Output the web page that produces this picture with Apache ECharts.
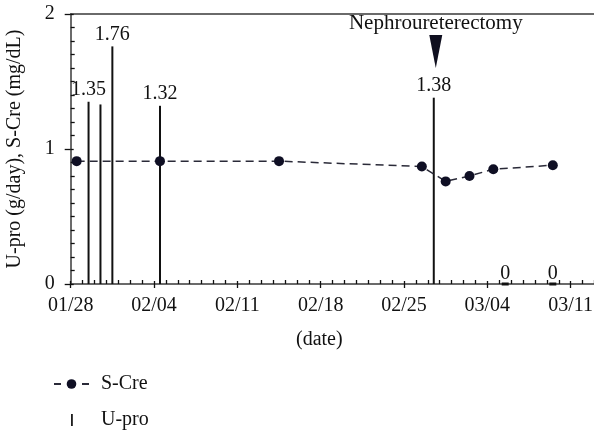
<!DOCTYPE html>
<html>
<head>
<meta charset="utf-8">
<script src="https://cdn.jsdelivr.net/npm/echarts@6/dist/echarts.min.js"></script>
<style>
  html, body { margin: 0; padding: 0; background: #fff; }
  #chart { width: 594px; height: 432px; }
</style>
</head>
<body>
<div id="chart"></div>
<script>
// x tick labels (one per week from 01/28)
const tickLabels = ['01/28', '02/04', '02/11', '02/18', '02/25', '03/04', '03/11']

// S-Cre (mg/dL)
const sCreDates = ['01/28', '02/04', '02/14', '02/26', '02/28', '03/02', '03/04', '03/09']
const sCreValues = [0.91, 0.91, 0.91, 0.87, 0.76, 0.80, 0.85, 0.88]

// U-pro (g/day)
const uProDates = ['01/29', '01/30', '01/31', '02/04', '02/27', '03/05', '03/09']
const uProValues = [1.35, 1.33, 1.76, 1.32, 1.38, 0, 0]
const uProShowLabel = [true, false, true, true, true, true, true]

const surgeryDate = '02/27'
const surgeryText = 'Nephroureterectomy'

const FONT = 'Liberation Serif'

// days since 01/28, points sit at the middle of their day
const dayOf = (s) => {
  const [m, d] = s.split('/').map(Number)
  return (Date.UTC(2010, m - 1, d) - Date.UTC(2010, 0, 28)) / 864e5 + 0.5
}

const sCreData = sCreDates.map((d, i) => [dayOf(d), sCreValues[i]])
const uProData = uProDates.map((d, i) => ({
  value: [dayOf(d), uProValues[i]],
  label: { show: uProShowLabel[i] && uProValues[i] > 0 }
}))
const uProZero = uProDates
  .map((d, i) => [dayOf(d), uProValues[i]])
  .filter(p => p[1] === 0)

const chart = echarts.init(document.getElementById('chart'))

const axisLineStyle = { color: '#3a3a3a', width: 1.5 }
const tickStyle = { color: '#111', width: 1.3 }

const option = {
  animation: false,
  textStyle: { fontFamily: FONT },
  // plot runs past the right edge of the picture, like the cropped original
  grid: { left: 70.7, width: 583.3, top: 14, bottom: 148, outerBoundsMode: 'none' },
  legend: {
    orient: 'vertical',
    left: 53,
    top: 374,
    padding: 0,
    itemGap: 16,
    itemWidth: 35,
    itemHeight: 12,
    textStyle: { fontFamily: FONT, fontSize: 20, color: '#111', padding: [0, 0, 0, 7] },
    data: [
      { name: 'S-Cre', lineStyle: { type: [7, 21] } },
      {
        name: 'U-pro',
        icon: 'path://M0,0 L0.01,0 Z M17,0 L19,0 L19,14 L17,14 Z M35,14 L35.01,14 Z'
      }
    ]
  },
  graphic: [{
    type: 'text',
    left: 296,
    top: 330,
    style: { text: '(date)', font: '20px "' + FONT + '"', fill: '#111' }
  }],
  xAxis: [
    {
      type: 'value', min: 0, max: 49, interval: 7,
      axisLine: { lineStyle: axisLineStyle },
      axisTick: { length: 4, lineStyle: tickStyle },
      splitLine: { show: false },
      axisLabel: {
        margin: 12, fontSize: 20, color: '#111', fontFamily: FONT,
        formatter: v => (v % 7 === 0 ? (tickLabels[v / 7] || '') : '')
      }
    },
    {
      type: 'value', min: 0, max: 49, interval: 7, position: 'bottom',
      axisLine: { show: false },
      axisTick: { inside: true, length: 3, lineStyle: tickStyle },
      minorTick: { show: true, splitNumber: 7, length: 4, lineStyle: tickStyle },
      splitLine: { show: false },
      axisLabel: { show: false }
    },
    {
      type: 'value', min: 0, max: 49, position: 'top',
      axisLine: { lineStyle: axisLineStyle },
      axisTick: { show: false },
      splitLine: { show: false },
      axisLabel: { show: false }
    }
  ],
  yAxis: [
    {
      type: 'value', min: 0, max: 2, interval: 1,
      name: 'U-pro (g/day), S-Cre (mg/dL)',
      nameLocation: 'middle',
      nameGap: 46,
      nameTextStyle: { fontSize: 20, color: '#111', fontFamily: FONT },
      axisLine: { show: true, lineStyle: axisLineStyle },
      axisTick: { show: true, length: 6, lineStyle: tickStyle },
      splitLine: { show: false },
      axisLabel: { margin: 16, fontSize: 20, color: '#111', fontFamily: FONT }
    },
    {
      type: 'value', min: 0, max: 2, interval: 1, position: 'left',
      axisLine: { show: false },
      axisTick: { show: true, inside: true, length: 3, lineStyle: tickStyle },
      minorTick: { show: true, splitNumber: 10, length: 4, lineStyle: tickStyle },
      splitLine: { show: false },
      axisLabel: { show: false }
    }
  ],
  series: [
    {
      name: 'U-pro',
      type: 'bar',
      barWidth: 2,
      data: uProData,
      itemStyle: { color: '#111' },
      label: {
        position: 'top', distance: 2, fontSize: 20, color: '#111', fontFamily: FONT,
        formatter: p => p.value[1].toFixed(2)
      },
      markPoint: {
        symbol: 'path://M0,0 L13,0 L6.5,33 Z',
        symbolSize: [13, 33],
        symbolOffset: [2, 0],
        itemStyle: { color: '#0f0f1f' },
        label: {
          show: true, position: 'top', distance: 1, fontSize: 21, color: '#111', fontFamily: FONT,
          formatter: surgeryText
        },
        data: [{ coord: [dayOf(surgeryDate), 1.722] }]
      },
      z: 2
    },
    {
      name: 'U-pro',
      type: 'scatter',
      symbol: 'rect',
      symbolSize: [7, 3],
      data: uProZero,
      itemStyle: { color: '#111', opacity: 1 },
      label: {
        show: true, position: 'top', distance: -1, fontSize: 20, color: '#111',
        fontFamily: FONT, opacity: 1, textBorderWidth: 0,
        formatter: p => String(p.value[1])
      },
      z: 2
    },
    {
      name: 'S-Cre',
      type: 'line',
      data: sCreData,
      symbol: 'circle',
      symbolSize: 10,
      lineStyle: { color: '#2a2a38', width: 1.5, type: [8, 5] },
      itemStyle: { color: '#0f0f24' },
      z: 3
    }
  ]
}

chart.setOption(option)
</script>
</body>
</html>
